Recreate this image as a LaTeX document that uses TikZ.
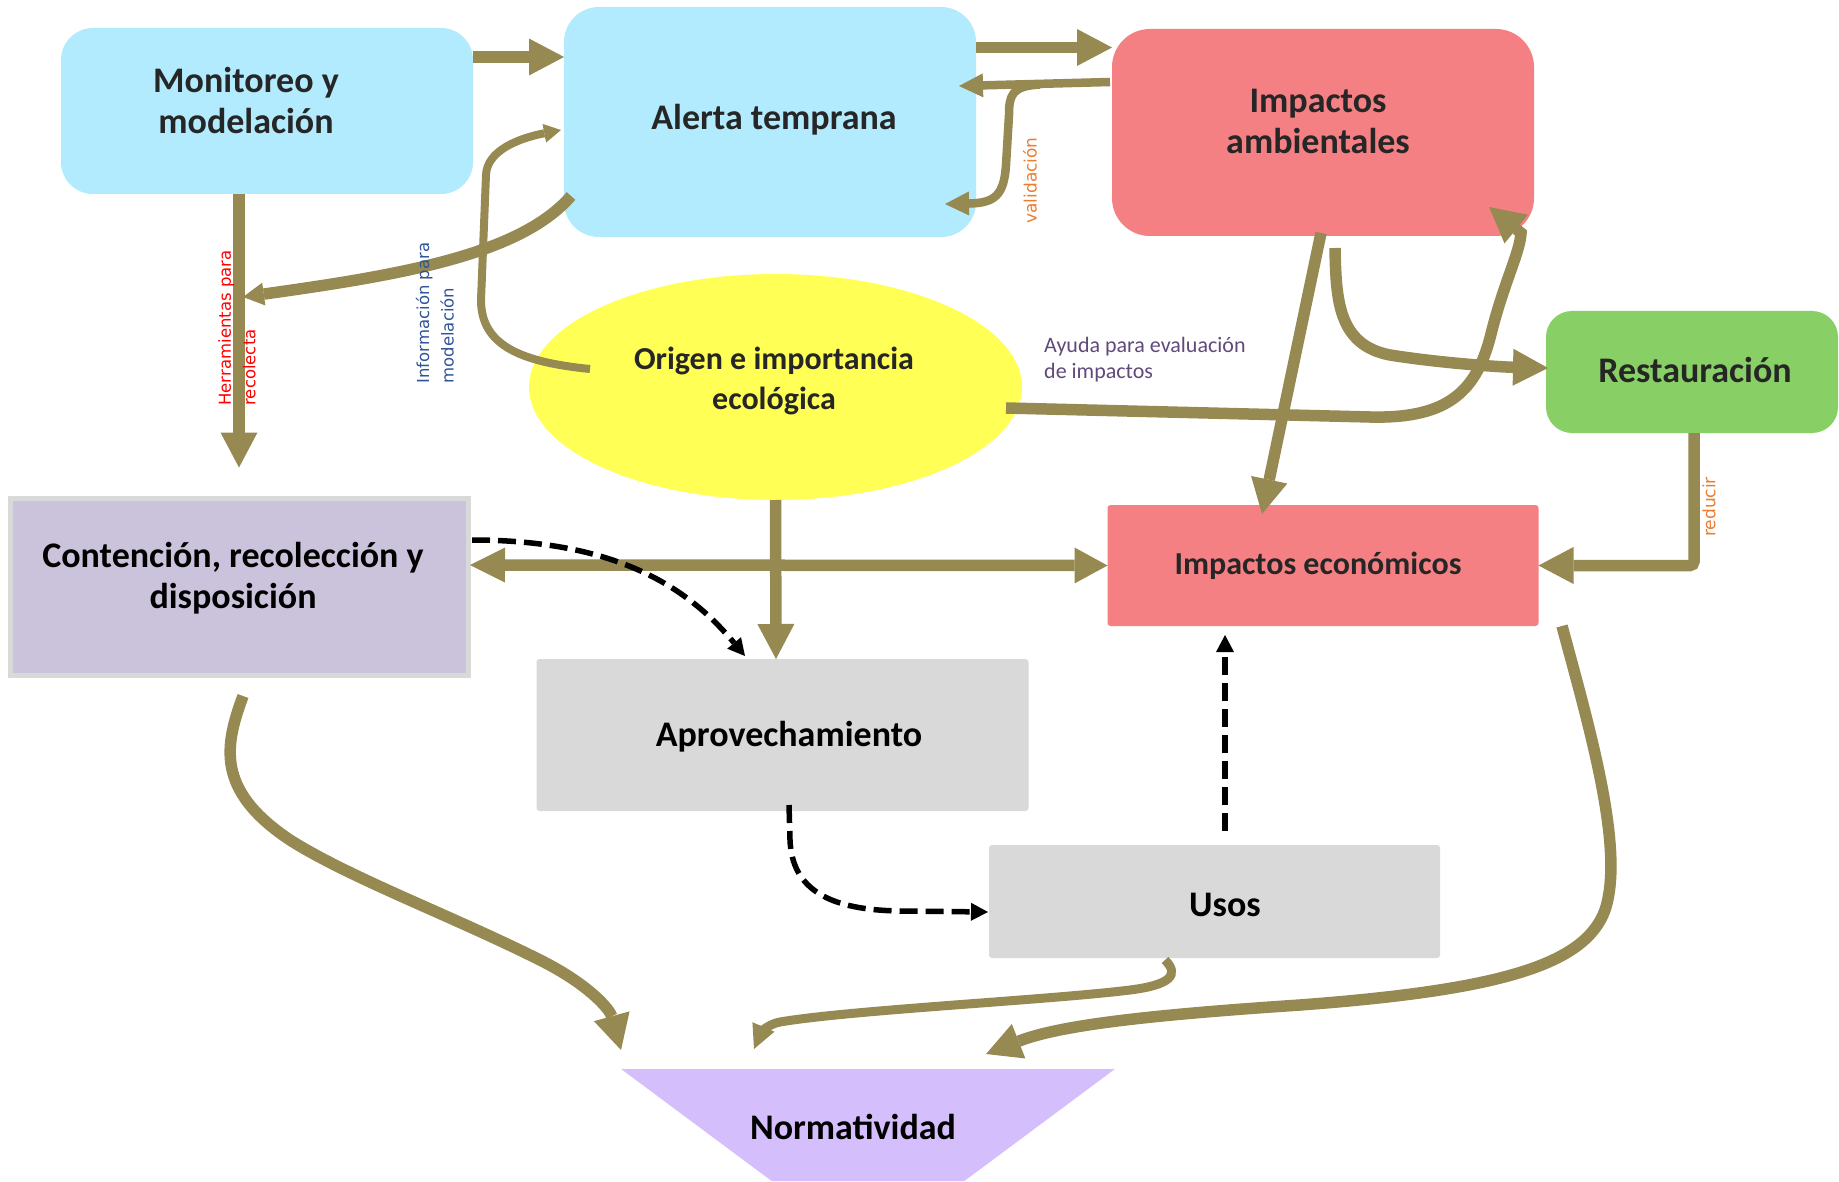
\documentclass[tikz,border=0pt]{standalone}
\usepackage{fontspec}
\setmainfont{Carlito}
\newfontfamily\notefont{DejaVu Sans}
\usetikzlibrary{arrows.meta,shapes.geometric,positioning}

\definecolor{skyfill}{RGB}{177,235,253}
\definecolor{rosefill}{RGB}{245,128,132}
\definecolor{leaffill}{RGB}{136,208,101}
\definecolor{lemonfill}{RGB}{255,255,85}
\definecolor{lilacfill}{RGB}{203,195,219}
\definecolor{lilacedge}{RGB}{217,217,217}
\definecolor{greyfill}{RGB}{217,217,217}
\definecolor{lavfill}{RGB}{213,190,252}
\definecolor{olivearrow}{RGB}{150,138,82}
\definecolor{darktext}{RGB}{38,38,38}
\definecolor{notered}{RGB}{255,0,0}
\definecolor{noteblue}{RGB}{47,85,151}
\definecolor{noteorange}{RGB}{237,125,49}
\definecolor{notepurple}{RGB}{96,74,123}

\begin{document}
\begin{tikzpicture}[
    x=1pt, y=-1pt,
    panel/.style={rectangle, inner sep=0pt, outer sep=0pt},
    title/.style={font=\fontsize{36}{41}\selectfont\bfseries, align=center, inner sep=0pt},
    smalltitle/.style={font=\fontsize{32}{40}\selectfont\bfseries, align=center, inner sep=0pt},
    note/.style={font=\notefont\fontsize{16.5}{24.5}\selectfont, rotate=90, align=left, inner sep=0pt},
    flow/.style={draw=olivearrow, line width=11.5pt, -{Triangle[length=35pt,width=37pt,line width=0pt]}},
    thinflow/.style={draw=olivearrow, line width=8.5pt, -{Triangle[length=24pt,width=24pt,line width=0pt]}},
    smallhead/.style={-{Triangle[length=21pt,width=23pt,line width=0pt]}},
    dashflow/.style={draw=black, line width=5.5pt, dash pattern=on 18pt off 8pt, -{Triangle[length=17pt,width=18pt,line width=0pt]}}
]

\path[use as bounding box, fill=white] (0,0) rectangle (1839,1182);

% Boxes
\node[panel, rounded corners=32pt, fill=skyfill, minimum width=412pt, minimum height=166pt] (mon) at (267,111) {};
\node[panel, rounded corners=35pt, fill=skyfill, minimum width=412pt, minimum height=230pt] (alerta) at (770,122) {};
\node[panel, rounded corners=38pt, fill=rosefill, minimum width=422pt, minimum height=207pt] (impamb) at (1323,132.5) {};
\node[panel, rounded corners=26pt, fill=leaffill, minimum width=292pt, minimum height=122pt] (rest) at (1692,372) {};
\node[ellipse, inner sep=0pt, outer sep=0pt, fill=lemonfill, minimum width=493pt, minimum height=226pt] (origen) at (775.5,387) {};
\node[panel, draw=lilacedge, line width=5pt, fill=lilacfill, minimum width=458pt, minimum height=177pt] (conten) at (239.5,587) {};
\node[panel, rounded corners=3pt, fill=greyfill, minimum width=492pt, minimum height=152pt] (aprov) at (782.5,735) {};
\node[panel, rounded corners=3pt, fill=greyfill, minimum width=451pt, minimum height=113pt] (usos) at (1214.5,901.5) {};
\node[panel, rounded corners=3pt, fill=rosefill, minimum width=431pt, minimum height=121pt] (impeco) at (1323,565.5) {};
\node[trapezium, trapezium left angle=52, trapezium right angle=52, shape border rotate=180,
      trapezium stretches=true, inner sep=2pt, outer sep=0pt, fill=lavfill,
      minimum width=494pt, minimum height=112pt] (norma) at (868,1125) {};

% Links along the top
\draw[flow] ([yshift=54pt]mon.east) -- ([yshift=65pt]alerta.west);
\draw[flow] ([yshift=74.5pt]alerta.east) -- ([yshift=85pt]impamb.west);
\draw[thinflow] ([xshift=-2pt,yshift=50.5pt]impamb.west) -- ([xshift=-17pt,yshift=36pt]alerta.east);
\coordinate (valsplit) at ([xshift=-72pt,yshift=48pt]impamb.west);
\draw[thinflow] (valsplit) .. controls (1012,86) and (1009,95) .. (1009,115) -- (1006,165)
    .. controls (1004,195) and (995,203) .. ([xshift=-31pt,yshift=-82pt]alerta.east);

% Left side
\draw[flow] ([xshift=-28pt]mon.south) -- ([xshift=-0.5pt,yshift=31pt]conten.north);
\draw[flow, smallhead] ([xshift=7pt,yshift=-74pt]alerta.west) .. controls (520,255) and (400,275)
    .. ([xshift=-24pt,yshift=-103pt]mon.south);
\draw[draw=olivearrow, line width=8pt, -{Triangle[length=17pt,width=19pt,line width=0pt]}]
    ([xshift=61pt,yshift=18pt]origen.west) .. controls (520,362) and (481,345) .. (481,300)
    -- (486,175) .. controls (487,150) and (520,138) .. ([xshift=-3pt,yshift=-8pt]alerta.west);

% Right side
\draw[flow] ([xshift=-16pt,yshift=-21pt]origen.east) -- (1370,417)
    .. controls (1450,419) and (1478,390) .. (1492,330)
    .. controls (1505,280) and (1520,252) .. (1521,233) -- ([xshift=-45pt,yshift=29pt]impamb.south east);
\draw[flow] ([xshift=12pt,yshift=-12pt]impamb.south) .. controls (1336,300) and (1338,345) .. (1390,355)
    .. controls (1440,363) and (1500,367) .. ([xshift=2pt,yshift=4pt]rest.west);
\draw[flow] ([xshift=-2pt,yshift=3pt]impamb.south) -- ([xshift=-61pt,yshift=-9pt]impeco.north);
\draw[flow, rounded corners=4pt] ([xshift=2pt]rest.south) |- (impeco.east);

% Middle
\draw[flow, {Triangle[length=35pt,width=35pt,line width=0pt]}-{Triangle[length=33pt,width=36pt,line width=0pt]}]
    ([xshift=1.5pt,yshift=22pt]conten.east) -- (impeco.west);
\draw[flow] (origen.south) -- ([xshift=-6.5pt]aprov.north);

% Into Normatividad
\draw[flow] ([xshift=3.5pt,yshift=-20.5pt]conten.south) .. controls (225,745) and (215,790) .. (290,840)
    .. controls (350,878) and (450,915) .. (540,960)
    .. controls (590,985) and (610,1010) .. ([xshift=-247pt,yshift=75pt]norma.center);
\draw[draw=olivearrow, line width=9pt, -{Triangle[length=24pt,width=24pt,line width=0pt]}]
    ([xshift=-49.5pt,yshift=-2pt]usos.south) .. controls (1180,975) and (1170,985) .. (1130,990)
    .. controls (1050,1000) and (850,1010) .. (780,1022)
    .. controls (765,1025) and (760,1035) .. ([xshift=-114pt,yshift=76pt]norma.center);
\draw[flow] ([xshift=23.5pt]impeco.south east) .. controls (1590,730) and (1625,850) .. (1605,910)
    .. controls (1585,965) and (1500,990) .. (1300,1005)
    .. controls (1150,1015) and (1060,1025) .. ([xshift=118pt,yshift=71pt]norma.center);

% Dashed links
\draw[dashflow] ([xshift=3.5pt,yshift=47pt]conten.east) .. controls (620,540) and (690,590)
    .. ([xshift=-37.5pt,yshift=3pt]aprov.north);
\draw[dashflow] ([xshift=6.5pt,yshift=6pt]aprov.south) -- (790,840) .. controls (792,890) and (830,910)
    .. (900,911) -- ([xshift=-1pt,yshift=-10.5pt]usos.west);
\draw[dashflow] ([xshift=10.5pt,yshift=14pt]usos.north) -- ([xshift=-98pt,yshift=-9pt]impeco.south);

% Box texts
\node[title, text=darktext] (montext) at ([xshift=-21pt,yshift=10.5pt]mon.center) {Monitoreo y\\modelación};
\node[title, text=darktext] (alertatext) at ([xshift=4pt,yshift=2pt]alerta.center) {Alerta temprana};
\node[title, text=darktext] (impambtext) at ([xshift=-5pt,yshift=11.5pt]impamb.center) {Impactos\\ambientales};
\node[title, text=darktext] (resttext) at ([xshift=3pt,yshift=2pt]rest.center) {Restauración};
\node[smalltitle, text=darktext] (origentext) at ([xshift=-1.5pt,yshift=6.5pt]origen.center) {Origen e importancia\\ecológica};
\node[title, text=black] (contentext) at ([xshift=-6.5pt,yshift=8.5pt]conten.center) {Contención, recolección y\\disposición};
\node[title, text=black] (aprovtext) at ([xshift=6.5pt,yshift=-2pt]aprov.center) {Aprovechamiento};
\node[title, text=black] (usostext) at ([xshift=10.5pt,yshift=-3pt]usos.center) {Usos};
\node[smalltitle, text=darktext] (impecotext) at ([xshift=-5pt]impeco.center) {Impactos económicos};
\node[title, text=black] (normatext) at ([xshift=-15pt,yshift=-1.5pt]norma.center) {Normatividad};

% Link labels
\node[note, text=notered] (herrnote) at (237,328) {Herramientas para\\recolecta};
\node[note, text=noteblue] (infonote) at (435,313) {Información para\\modelación};
\node[note, text=noteorange, font=\notefont\fontsize{17}{20}\selectfont] (validnote) at (1030,180.5) {validación};
\node[note, text=noteorange, font=\notefont\fontsize{17}{20}\selectfont] (reducnote) at (1709,507) {reducir};
\node[anchor=west, align=left, inner sep=0pt, text=notepurple, font=\fontsize{22}{26}\selectfont]
    (ayudanote) at (1044,360) {Ayuda para evaluación\\de impactos};

\end{tikzpicture}
\end{document}
